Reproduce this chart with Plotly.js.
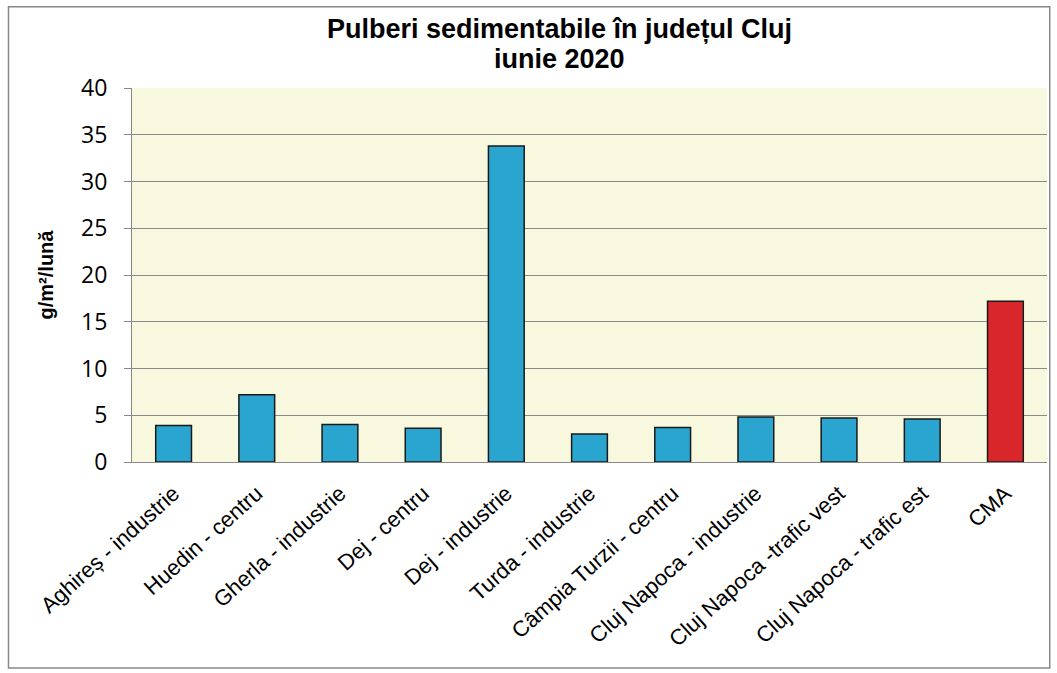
<!DOCTYPE html>
<html>
<head>
<meta charset="utf-8">
<script src="https://cdn.plot.ly/plotly-3.0.1.min.js"></script>
<style>html,body{margin:0;padding:0;background:#fff;}#chart{width:1057px;height:673px;}</style>
</head>
<body>
<div id="chart"></div>
<script>
const categories = ["Aghireș - industrie","Huedin - centru","Gherla - industrie","Dej - centru","Dej - industrie","Turda - industrie","Câmpia Turzii - centru","Cluj Napoca - industrie","Cluj Napoca -trafic vest","Cluj Napoca - trafic est","CMA"];
const values = [3.9, 7.2, 4.0, 3.6, 33.8, 3.0, 3.7, 4.8, 4.7, 4.6, 17.2];
const barColors = ["#2aa5cf","#2aa5cf","#2aa5cf","#2aa5cf","#2aa5cf","#2aa5cf","#2aa5cf","#2aa5cf","#2aa5cf","#2aa5cf","#d9262a"];
const yTicks = [0,5,10,15,20,25,30,35,40];
const titleLines = ["Pulberi sedimentabile în județul Cluj", "iunie 2020"];

const trace = {
  type: 'bar',
  x: categories,
  y: values,
  width: 0.43,
  marker: {color: barColors, line: {color: '#1a1a1a', width: 1.5}},
  hoverinfo: 'x+y'
};

const titleFont = {family: 'Liberation Sans, Arial, sans-serif', size: 27, color: '#000'};

const layout = {
  width: 1057, height: 673,
  margin: {l: 132, r: 10, t: 88, b: 211},
  paper_bgcolor: '#ffffff',
  plot_bgcolor: '#f7f8dd',
  showlegend: false,
  bargap: 0.57,
  xaxis: {
    type: 'category',
    tickangle: -42,
    tickfont: {family: 'Liberation Sans, Arial, sans-serif', size: 22, color: '#000'},
    showgrid: false,
    showline: true, linecolor: '#888', linewidth: 1,
    ticks: '',
    ticklabelstandoff: 9,
    zeroline: false
  },
  yaxis: {
    range: [0, 40],
    tickvals: yTicks,
    ticktext: yTicks.map(String),
    tickfont: {family: 'Open Sans, Carlito, sans-serif', size: 23, color: '#000'},
    showgrid: true, gridcolor: '#8a8a8a', gridwidth: 1,
    showline: true, linecolor: '#888', linewidth: 1,
    ticks: 'outside', ticklen: 7, tickcolor: '#888',
    ticklabelstandoff: 12,
    zeroline: false,
    title: {text: '<b>g/m²/lună</b>', font: {family: 'Liberation Sans, Arial, sans-serif', size: 20, color: '#000'}, standoff: 22}
  },
  annotations: [
    {text: '<b>' + titleLines[0] + '</b>', xref: 'paper', yref: 'paper', x: (559-132)/915, y: 1.158,
     xanchor: 'center', yanchor: 'middle', showarrow: false, font: titleFont},
    {text: '<b>' + titleLines[1] + '</b>', xref: 'paper', yref: 'paper', x: (559-132)/915, y: 1.078,
     xanchor: 'center', yanchor: 'middle', showarrow: false, font: titleFont}
  ],
  shapes: [
    {type: 'rect', xref: 'paper', yref: 'paper', x0: -0.135, x1: 1.003, y0: -0.551, y1: 1.217,
     line: {color: '#888', width: 1.5}, fillcolor: 'rgba(0,0,0,0)'}
  ]
};

Plotly.newPlot('chart', [trace], layout, {displayModeBar: false, staticPlot: true});
</script>
</body>
</html>
